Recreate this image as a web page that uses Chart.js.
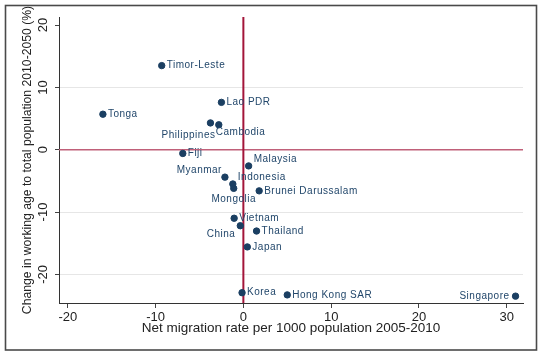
<!DOCTYPE html>
<html>
<head>
<meta charset="utf-8">
<script src="https://cdn.jsdelivr.net/npm/chart.js@4.4.1/dist/chart.umd.min.js"></script>
<style>
html,body{margin:0;padding:0;background:#fff;}
#wrap{width:543px;height:356px;position:relative;}
</style>
</head>
<body>
<div id="wrap"><canvas id="c" width="543" height="356"></canvas></div>
<script>
// ---- data ----
const countries = ["Timor-Leste","Lao PDR","Tonga","Philippines","Cambodia","Fiji","Malaysia","Myanmar","Indonesia","Mongolia","Brunei Darussalam","Vietnam","China","Thailand","Japan","Korea","Hong Kong SAR","Singapore"];
const netMigration = [-9.3,-2.5,-16.0,-3.75,-2.8,-6.9,0.6,-2.1,-1.2,-1.1,1.8,-1.05,-0.35,1.5,0.45,-0.15,5.0,31.0];
const workingAgeChange = [13.5,7.6,5.7,4.3,4.0,-0.6,-2.6,-4.4,-5.5,-6.2,-6.6,-11.0,-12.2,-13.05,-15.6,-22.95,-23.3,-23.5];
// label position (Stata clock positions)
const labelPos = [3,3,3,7,5,3,2,10,2,6,3,3,7,3,3,3,3,9];
const xTicks = [-20,-10,0,10,20,30];
const yTicks = [-20,-10,0,10,20];
const xTitle = "Net migration rate per 1000 population 2005-2010";
const yTitle = "Change in working age to total population 2010-2050 (%)";

const navy = '#1b3f62';
const labelColor = '#22476b';

const points = netMigration.map((x,i)=>({x:x,y:workingAgeChange[i]}));

const decor = {
  id:'decor',
  beforeDraw(chart){
    const ctx = chart.ctx;
    ctx.save();
    ctx.fillStyle='#fff';
    ctx.fillRect(0,0,chart.width,chart.height);
    ctx.strokeStyle='#4a4a4a';
    ctx.lineWidth=1.6;
    ctx.strokeRect(5.5,5.5,531,344.5);
    ctx.restore();
  },
  beforeDatasetsDraw(chart){
    const ctx = chart.ctx, xs = chart.scales.x, ys = chart.scales.y, a = chart.chartArea;
    ctx.save();
    const y0 = ys.getPixelForValue(0);
    ctx.strokeStyle='#c06079';
    ctx.lineWidth=1.4;
    ctx.beginPath(); ctx.moveTo(a.left, y0); ctx.lineTo(a.right, y0); ctx.stroke();
    const x0 = xs.getPixelForValue(0);
    ctx.strokeStyle='#a3153a';
    ctx.lineWidth=2;
    ctx.beginPath(); ctx.moveTo(x0, a.top); ctx.lineTo(x0, a.bottom); ctx.stroke();
    ctx.restore();
  },
  afterDatasetsDraw(chart){
    const ctx = chart.ctx, meta = chart.getDatasetMeta(0);
    const ys = chart.scales.y, a = chart.chartArea;
    ctx.save();
    ctx.font = '10px Arial, "Liberation Sans", sans-serif';
    try{ ctx.letterSpacing = '0.5px'; }catch(e){}
    ctx.fillStyle = labelColor;
    meta.data.forEach((el,i)=>{
      const p = labelPos[i];
      let x = el.x, y = el.y, align='left';
      if (p===3){ x += 5; }
      else if (p===9){ x -= 6; align='right'; }
      else if (p===2){ x += 5; y -= 6.5; }
      else if (p===10){ x -= 3; y -= 7; align='right'; }
      else if (p===5){ x -= 3; y += 7; }
      else if (p===7){ x += 5; y += 12; align='right'; }
      else if (p===6){ y += 11; align='center'; }
      if (countries[i]==='China'){ x = el.x - 5; y = el.y + 9; }
      ctx.textAlign = align; ctx.textBaseline = 'middle';
      ctx.fillText(countries[i], x, y);
    });
    ctx.restore();
    // y tick labels (rotated)
    ctx.save();
    ctx.font = '13px Arial, "Liberation Sans", sans-serif';
    ctx.fillStyle = '#222';
    ctx.textAlign='center'; ctx.textBaseline='middle';
    yTicks.forEach(v=>{
      const py = ys.getPixelForValue(v);
      ctx.save(); ctx.translate(43, py); ctx.rotate(-Math.PI/2);
      ctx.fillText(String(v), 0, 0);
      ctx.restore();
    });
    // axis titles
    ctx.fillStyle = '#222';
    ctx.textAlign='center'; ctx.textBaseline='middle';
    ctx.font = '13.5px Arial, "Liberation Sans", sans-serif';
    ctx.fillText(xTitle, (a.left+a.right)/2, 328);
    ctx.font = '12.2px Arial, "Liberation Sans", sans-serif';
    ctx.save(); ctx.translate(28, (a.top+a.bottom)/2); ctx.rotate(-Math.PI/2);
    ctx.fillText(yTitle, 0, 0);
    ctx.restore();
    ctx.restore();
  }
};

new Chart(document.getElementById('c'), {
  type:'scatter',
  data:{ datasets:[{
    data: points,
    backgroundColor: navy,
    borderColor: navy,
    pointRadius: 3.2,
    pointHoverRadius: 3.2,
    pointStyle:'circle'
  }]},
  options:{
    responsive:false,
    animation:false,
    devicePixelRatio:1,
    layout:{ padding:{ left:0, top:17, right:20, bottom:0 } },
    plugins:{ legend:{display:false}, tooltip:{enabled:false} },
    scales:{
      x:{
        type:'linear', min:-21, max:31.85,
        afterBuildTicks: s => { s.ticks = xTicks.map(v=>({value:v})); },
        afterFit: s => { s.height = 53; },
        grid:{ drawOnChartArea:false, drawTicks:true, tickLength:5, tickColor:'#444' },
        border:{ display:true, color:'#333', width:1 },
        ticks:{ padding:2, color:'#222', font:{ family:'Arial, "Liberation Sans", sans-serif', size:13 }, maxRotation:0, minRotation:0 }
      },
      y:{
        type:'linear', min:-24.6, max:21.3,
        afterBuildTicks: s => { s.ticks = yTicks.map(v=>({value:v})); },
        afterFit: s => { s.width = 59; },
        grid:{
          drawTicks:true, tickLength:4, tickColor:'#444',
          color: c => (c.tick && (c.tick.value===10 || c.tick.value===-10 || c.tick.value===-20)) ? '#e6e6e6' : 'rgba(0,0,0,0)',
          lineWidth:1
        },
        border:{ display:true, color:'#333', width:1 },
        ticks:{ display:false }
      }
    }
  },
  plugins:[decor]
});
</script>
</body>
</html>
